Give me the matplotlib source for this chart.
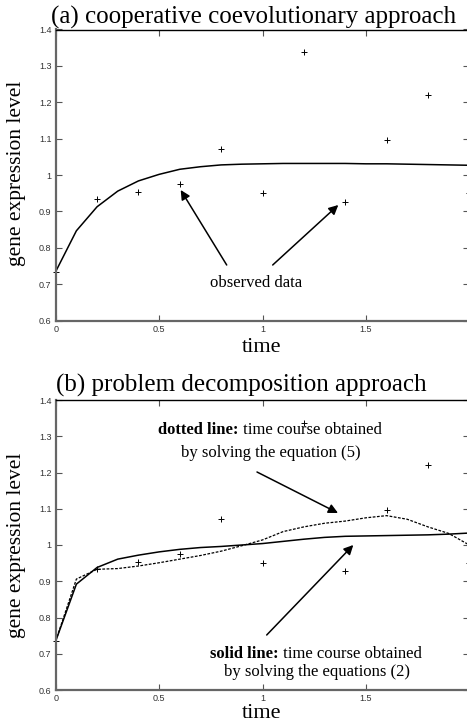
import numpy as np
import matplotlib.pyplot as plt

# ---------------- DATA ----------------
t_obs = [0.0, 0.2, 0.4, 0.6, 0.8, 1.0, 1.2, 1.4, 1.6, 1.8, 2.0]
obs = [0.735, 0.933, 0.954, 0.976, 1.071, 0.950, 1.337, 0.927, 1.097, 1.221, 0.950]

t_sim = [0.0, 0.1, 0.2, 0.3, 0.4, 0.5, 0.6, 0.7, 0.8, 0.9, 1.0,
         1.1, 1.2, 1.3, 1.4, 1.5, 1.6, 1.7, 1.8, 1.9, 2.0]
coop = [0.735, 0.847, 0.913, 0.956, 0.984, 1.002, 1.016, 1.023, 1.028, 1.030, 1.031,
        1.032, 1.032, 1.032, 1.032, 1.031, 1.031, 1.030, 1.029, 1.028, 1.027]
decomp_solid = [0.735, 0.892, 0.938, 0.961, 0.972, 0.981, 0.988, 0.993, 0.996, 1.000, 1.004,
                1.010, 1.016, 1.021, 1.024, 1.025, 1.026, 1.027, 1.028, 1.030, 1.033]
decomp_dotted = [0.735, 0.906, 0.933, 0.935, 0.942, 0.951, 0.961, 0.971, 0.983, 0.998, 1.014,
                 1.037, 1.050, 1.060, 1.066, 1.075, 1.081, 1.071, 1.050, 1.032, 1.000]

x_ticks = [0, 0.5, 1, 1.5, 2]
x_ticklabels = ["0", "0.5", "1", "1.5", "2"]
y_ticks = [0.6, 0.7, 0.8, 0.9, 1.0, 1.1, 1.2, 1.3, 1.4]
y_ticklabels = ["0.6", "0.7", "0.8", "0.9", "1", "1.1", "1.2", "1.3", "1.4"]
# --------------------------------------

W, H = 467, 728
serif = "Liberation Serif"
sans = "Liberation Sans"

fig = plt.figure(figsize=(W / 100, H / 100), dpi=100)
renderer = fig.canvas.get_renderer()


def px(x, y):
    # pixel position -> figure fraction
    return x / W, 1 - y / H


def mixed_line(cx, cy, bold, rest, size=12):
    # bold lead-in followed by regular text, centred as a whole on (cx, cy)
    t1 = fig.text(0, 0, bold, fontsize=size, family=serif, weight="bold",
                  ha="left", va="center")
    t2 = fig.text(0, 0, rest, fontsize=size, family=serif,
                  ha="left", va="center")
    w1 = t1.get_window_extent(renderer).width
    w2 = t2.get_window_extent(renderer).width
    x0 = cx - (w1 + w2) / 2
    t1.set_position(px(x0, cy))
    t2.set_position(px(x0 + w1, cy))


def style_axes(ax):
    ax.set_xlim(0, 2)
    ax.set_ylim(0.6, 1.4)
    ax.set_xticks(x_ticks)
    ax.set_xticklabels(x_ticklabels)
    ax.set_yticks(y_ticks)
    ax.set_yticklabels(y_ticklabels)
    ax.tick_params(direction="in", length=4, width=0.8, color="#555555",
                   labelsize=6.5, labelcolor="#333333", pad=3,
                   top=True, right=True)
    for lab in ax.get_xticklabels() + ax.get_yticklabels():
        lab.set_fontfamily(sans)
    for side in ("left", "bottom"):
        ax.spines[side].set_color("#666666")
        ax.spines[side].set_linewidth(1.6)
    ax.spines["top"].set_color("black")
    ax.spines["top"].set_linewidth(1.0)
    ax.spines["right"].set_color("black")
    ax.spines["right"].set_linewidth(1.0)


left = 55.7 / W
width = (469.3 - 55.7) / W
arrow = dict(arrowstyle="-|>", color="black", lw=1.1, mutation_scale=14,
             shrinkA=0, shrinkB=0)

# -------- Panel (a) --------
ax1 = fig.add_axes([left, (H - 320.7) / H, width, (320.7 - 29.5) / H])
style_axes(ax1)
ax1.plot(t_sim, coop, color="black", lw=1.1)
ax1.plot(t_obs, obs, "+", color="black", ms=4, mew=0.7, clip_on=False)

fig.text(*px(256, 283), "observed data", fontsize=12,
         family=serif, ha="center", va="center")
for tail, tip in [((226.7, 265), (180.7, 190)), ((272.7, 265), (338.3, 205))]:
    ax1.annotate("", xy=px(*tip), xycoords="figure fraction",
                 xytext=px(*tail), textcoords="figure fraction", arrowprops=arrow)

fig.text(*px(253.5, 24), "(a) cooperative coevolutionary approach",
         fontsize=18, family=serif, ha="center", va="baseline")
fig.text(*px(262, 351.5), "time", fontsize=16, family=serif,
         ha="center", va="baseline")
fig.text(*px(17, 173), "gene expression level", fontsize=15.5, family=serif,
         ha="center", va="center", rotation=90)

# -------- Panel (b) --------
ax2 = fig.add_axes([left, (H - 690) / H, width, (690 - 400) / H])
style_axes(ax2)
ax2.plot(t_sim, decomp_solid, color="black", lw=1.1)
ax2.plot(t_sim, decomp_dotted, color="black", lw=0.9, ls=(0, (2.2, 1.2)))
ax2.plot(t_obs, obs, "+", color="black", ms=4, mew=0.7, clip_on=False)

mixed_line(270, 430, "dotted line:", " time course obtained")
fig.text(*px(271, 453), "by solving the equation (5)",
         fontsize=12, family=serif, ha="center", va="center")
mixed_line(316, 654, "solid line:", " time course obtained")
fig.text(*px(317.5, 672), "by solving the equations (2)",
         fontsize=12, family=serif, ha="center", va="center")

for tail, tip in [((257, 472), (338, 513)), ((266.7, 635), (353.3, 545))]:
    ax2.annotate("", xy=px(*tip), xycoords="figure fraction",
                 xytext=px(*tail), textcoords="figure fraction", arrowprops=arrow)

fig.text(*px(241, 391.5), "(b) problem decomposition approach",
         fontsize=18, family=serif, ha="center", va="baseline")
fig.text(*px(262, 718), "time", fontsize=16, family=serif,
         ha="center", va="baseline")
fig.text(*px(17, 545), "gene expression level", fontsize=15.5, family=serif,
         ha="center", va="center", rotation=90)

fig.savefig("out.png", dpi=100)
